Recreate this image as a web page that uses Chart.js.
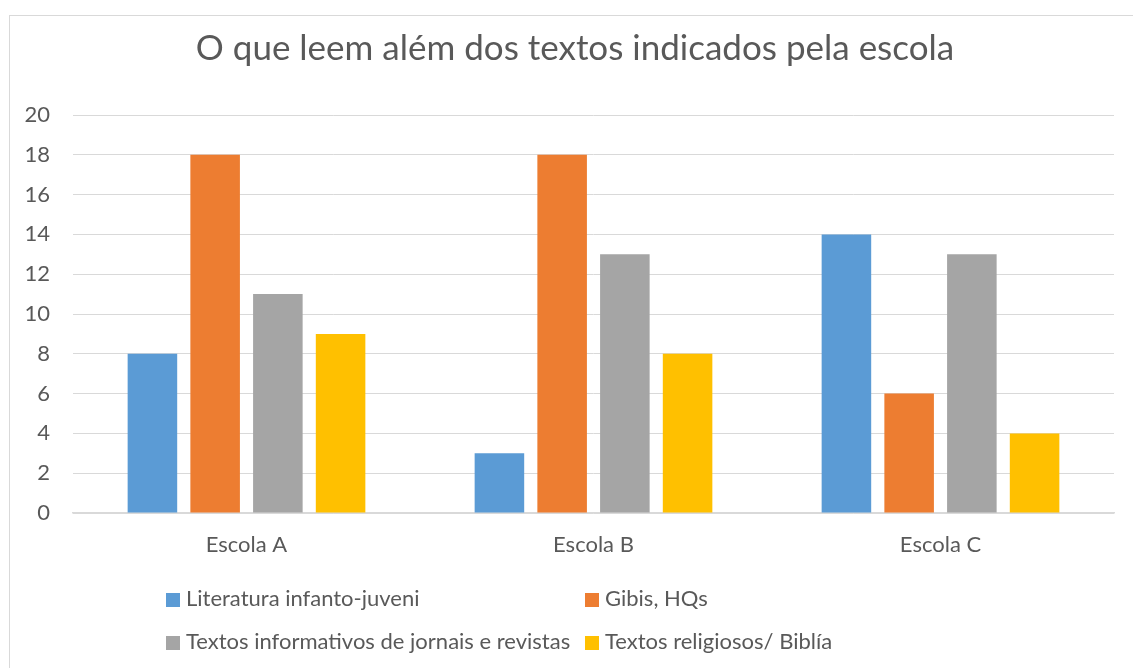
<!DOCTYPE html>
<html>
<head>
<meta charset="utf-8">
<script src="https://cdn.jsdelivr.net/npm/chart.js@4.4.1/dist/chart.umd.min.js"></script>
<style>
  html, body { margin:0; padding:0; background:#fff; width:1133px; height:668px; overflow:hidden; }
  #frame { position:absolute; left:9px; top:15px; width:1200px; height:700px; border:1px solid #d9d9d9; box-sizing:border-box; }
  #wrap { position:absolute; left:0; top:0; width:1133px; height:668px; }
  #title { position:absolute; left:0; top:25px; width:1150px; text-align:center; font-family:Lato, "Open Sans", sans-serif; font-size:35px; line-height:42px; color:#595959; white-space:nowrap; }
  .leg { position:absolute; font-family:Lato, "Open Sans", sans-serif; font-size:22px; color:#595959; white-space:nowrap; line-height:24px; }
  .leg span.box { display:inline-block; width:14px; height:14px; margin-right:6px; vertical-align:-1px; }
</style>
</head>
<body>
<div id="frame"></div>
<div id="wrap"><canvas id="c" width="1133" height="668"></canvas></div>
<div id="title"></div>
<div id="legend"></div>
<script>
const titleText = "O que leem além dos textos indicados pela escola";
const categories = ["Escola A", "Escola B", "Escola C"];
const seriesNames = ["Literatura infanto-juveni", "Gibis, HQs", "Textos informativos de jornais e revistas", "Textos religiosos/ Biblía"];
const literatura = [8, 3, 14];
const gibis = [18, 18, 6];
const informativos = [11, 13, 13];
const religiosos = [9, 8, 4];
const yTicks = [0, 2, 4, 6, 8, 10, 12, 14, 16, 18, 20];
const colors = ["#5B9BD5", "#ED7D31", "#A5A5A5", "#FFC000"];

const values = [literatura, gibis, informativos, religiosos];
const FONT = "Lato, 'Open Sans', sans-serif";

document.getElementById('title').textContent = titleText;

const chart = new Chart(document.getElementById('c'), {
  type: 'bar',
  data: {
    labels: categories,
    datasets: seriesNames.map((n, i) => ({
      label: n,
      data: values[i],
      backgroundColor: colors[i],
      borderWidth: 0,
      categoryPercentage: 0.723,
      barPercentage: 0.79
    }))
  },
  options: {
    responsive: false,
    animation: false,
    layout: { padding: { left: 0, right: 19, top: 115, bottom: 0 } },
    plugins: {
      legend: { display: false },
      tooltip: { enabled: false },
      title: { display: false }
    },
    scales: {
      x: {
        grid: { display: false, drawTicks: false },
        border: { display: true, color: '#d9d9d9', width: 1.5 },
        ticks: { color: '#595959', font: { family: FONT, size: 22 }, padding: 19 },
        afterFit: (s) => { s.height = 155; }
      },
      y: {
        min: 0, max: 20,
        afterBuildTicks: (s) => { s.ticks = yTicks.map(v => ({ value: v })); },
        grid: { color: '#d9d9d9', drawTicks: false, lineWidth: 1 },
        border: { display: false },
        ticks: { color: '#595959', font: { family: FONT, size: 22 }, padding: 23 },
        afterFit: (s) => { s.width = 73; }
      }
    }
  }
});

// HTML legend (2 columns)
const legPos = [[166, 586], [585, 586], [166, 629], [585, 629]];
const legend = document.getElementById('legend');
seriesNames.forEach((n, i) => {
  const d = document.createElement('div');
  d.className = 'leg';
  d.style.left = legPos[i][0] + 'px';
  d.style.top = legPos[i][1] + 'px';
  d.innerHTML = '<span class="box" style="background:' + colors[i] + '"></span>' + n;
  legend.appendChild(d);
});
</script>
</body>
</html>
